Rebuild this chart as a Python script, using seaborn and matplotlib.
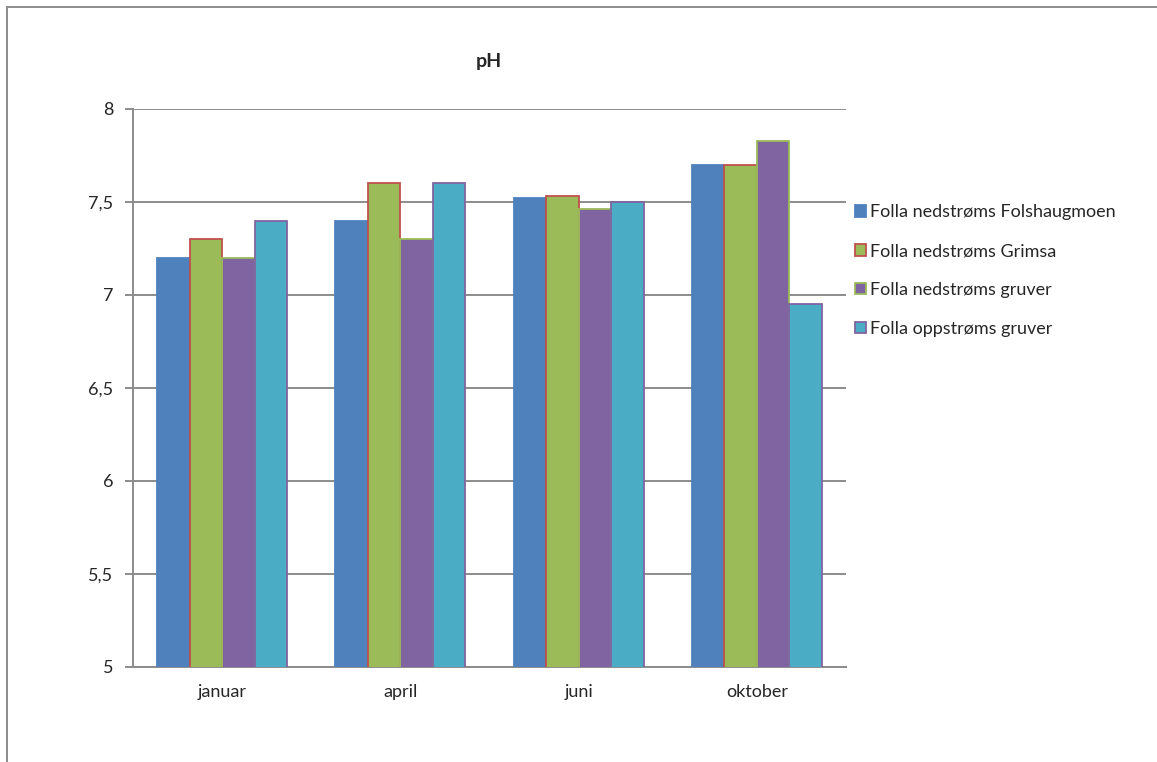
import matplotlib
matplotlib.use("Agg")
import matplotlib.pyplot as plt
import matplotlib.patches as mpatches
import matplotlib.ticker as mticker
import seaborn as sns
import pandas as pd

months = ["januar", "april", "juni", "oktober"]
series_names = [
    "Folla nedstrøms Folshaugmoen",
    "Folla nedstrøms Grimsa",
    "Folla nedstrøms gruver",
    "Folla oppstrøms gruver",
]
folshaugmoen = [7.2, 7.4, 7.52, 7.7]
grimsa = [7.3, 7.6, 7.53, 7.7]
ned_gruver = [7.2, 7.3, 7.46, 7.83]
opp_gruver = [7.4, 7.6, 7.5, 6.95]
y_ticks = [5, 5.5, 6, 6.5, 7, 7.5, 8]

face_colors = ["#4F81BD", "#9BBB59", "#8064A2", "#4BACC6"]
edge_colors = ["#4F81BD", "#C0504D", "#9BBB59", "#8064A2"]

rows = []
for name, vals in zip(series_names, [folshaugmoen, grimsa, ned_gruver, opp_gruver]):
    for m, v in zip(months, vals):
        rows.append({"måned": m, "stasjon": name, "pH": v})
df = pd.DataFrame(rows)

sns.set_style("white")
plt.rcParams["font.family"] = ["Lato", "DejaVu Sans"]

fig = plt.figure(figsize=(11.57, 7.62), dpi=100)
ax = fig.add_axes([133 / 1157, 1 - 667 / 762, (846 - 133) / 1157, (667 - 109) / 762])

sns.barplot(
    data=df, x="måned", y="pH", hue="stasjon",
    order=months, hue_order=series_names,
    palette=face_colors, saturation=1, width=0.73, gap=0, ax=ax,
    legend=False, zorder=3,
)

for cont, ec in zip(ax.containers, edge_colors):
    for bar in cont:
        bar.set_edgecolor(ec)
        bar.set_linewidth(1.3)

ax.set_ylim(5, 8)
ax.set_xlim(-0.5, len(months) - 0.5)
ax.set_yticks(y_ticks)
ax.yaxis.set_major_formatter(mticker.FuncFormatter(lambda v, p: f"{v:g}".replace(".", ",")))
ax.yaxis.grid(True, color="#8c8c8c", linewidth=1.4, zorder=0)
ax.set_axisbelow(True)

for side in ["top", "right"]:
    ax.spines[side].set_visible(False)
for side in ["left", "bottom"]:
    ax.spines[side].set_color("#8c8c8c")
    ax.spines[side].set_linewidth(1.4)

ax.set_xticks(range(len(months)))
ax.set_xticklabels(months)
ax.set_xticks([i + 0.5 for i in range(-1, len(months))], minor=True)
ax.tick_params(axis="x", which="major", length=0, pad=12, labelsize=13)
ax.tick_params(axis="x", which="minor", length=6, width=1.4, color="#8c8c8c", direction="out")
ax.tick_params(axis="y", length=6, width=1.4, color="#8c8c8c", direction="out",
               left=True, pad=8, labelsize=13)
ax.set_xlabel("")
ax.set_ylabel("")

fig.text(489 / 1157, 1 - 62 / 762, "pH", ha="center", va="center",
         fontsize=14, fontweight="bold")

handles = [
    mpatches.Patch(facecolor=fc, edgecolor=ec, linewidth=1.3, label=n)
    for fc, ec, n in zip(face_colors, edge_colors, series_names)
]
fig.legend(
    handles=handles, loc="upper left",
    bbox_to_anchor=(839 / 1157, 1 - 188 / 762),
    frameon=False, fontsize=13, handlelength=0.6, handleheight=0.6,
    handletextpad=0.2, labelspacing=1.27,
)

# chart frame
fig.add_artist(mpatches.Rectangle((7 / 1157, -0.1), 1.2, 1 - 7 / 762 + 0.1,
                                  transform=fig.transFigure, fill=False,
                                  edgecolor="#8c8c8c", linewidth=1.4))

fig.savefig("out.png", dpi=100, facecolor="white")
